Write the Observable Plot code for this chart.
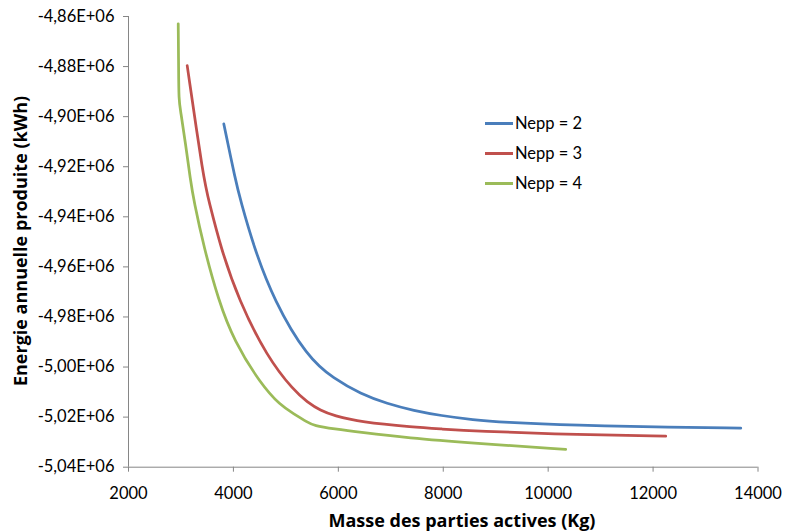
<!DOCTYPE html>
<html>
<head>
<meta charset="utf-8">
<script src="https://cdn.jsdelivr.net/npm/d3@7"></script>
<script src="https://cdn.jsdelivr.net/npm/@observablehq/plot@0.6"></script>
<style>
  html, body { margin: 0; padding: 0; background: #fff; }
  #wrap { position: relative; width: 786px; height: 531px; font-family: Lato, "Open Sans", sans-serif; }
  #legend { position: absolute; left: 485px; top: 108px; font-size: 16.5px; color: #000; }
  .item { display: flex; align-items: center; height: 30px; }
  .sw { width: 28px; height: 3px; margin-right: 2px; }
  .title { position: absolute; white-space: nowrap; font-family: "Open Sans", Lato, sans-serif; font-weight: bold; font-size: 18px; color: #000; line-height: 1; }
  #xtitle { left: 462px; top: 520px; transform: translate(-50%, -50%); }
  #ytitle { left: 20px; top: 241px; transform: translate(-50%, -50%) rotate(-90deg); }
</style>
</head>
<body>
<div id="wrap"><div id="legend"></div><div class="title" id="xtitle"></div><div class="title" id="ytitle"></div></div>
<script>
// ---- data ----
const seriesNames = ["Nepp = 2", "Nepp = 3", "Nepp = 4"];
const colors = ["#4a7ebb", "#c0504d", "#9bbb59"];

const massNepp2 = [3817, 4040, 4136, 4389, 4771, 5408, 5915, 6424, 6933, 7441, 7950, 8585, 9094, 10620, 12000, 13671];
const energyNepp2 = [-4902900, -4925500, -4933500, -4952100, -4973400, -4996100, -5004700, -5010700, -5014700, -5017400, -5019400, -5021100, -5022000, -5023300, -5023900, -5024400];

const massNepp3 = [3119, 3436, 3531, 3754, 4103, 4645, 5152, 5408, 5661, 5915, 6424, 7441, 7950, 8585, 10620, 12241];
const energyNepp3 = [-4879600, -4925500, -4933500, -4952100, -4973400, -4996100, -5009400, -5014000, -5017400, -5019400, -5022000, -5024000, -5024700, -5025600, -5027100, -5027600];

const massNepp4 = [2948, 2955, 2959, 2992, 3087, 3182, 3245, 3436, 3716, 4008, 4517, 4899, 5152, 5408, 5534, 5915, 6424, 7315, 8585, 10334];
const energyNepp4 = [-4862900, -4880000, -4893600, -4897500, -4910800, -4925500, -4933500, -4952100, -4973400, -4989400, -5006700, -5015400, -5018700, -5022000, -5023400, -5024700, -5026100, -5028300, -5030400, -5032900];

const xTicks = [2000, 4000, 6000, 8000, 10000, 12000, 14000];
const yTicks = [-5040000, -5020000, -5000000, -4980000, -4960000, -4940000, -4920000, -4900000, -4880000, -4860000];

const xLabel = "Masse des parties actives (Kg)";
const yLabel = "Energie annuelle produite (kWh)";

// ---- build table ----
const rows = [];
[[massNepp2, energyNepp2], [massNepp3, energyNepp3], [massNepp4, energyNepp4]].forEach(([m, e], i) => {
  m.forEach((v, j) => rows.push({mass: v, energy: e[j], series: seriesNames[i]}));
});

const yFmt = d => (d / 1e6).toFixed(2).replace(".", ",") + "E+06";
const axisGray = "#868686";

const chart = Plot.plot({
  width: 786,
  height: 531,
  marginLeft: 128,
  marginRight: 28.5,
  marginTop: 16,
  marginBottom: 64.3,
  style: {fontFamily: "Lato, 'Open Sans', sans-serif", fontSize: "16.5px", background: "white", color: "black"},
  x: {domain: [2000, 14000], label: null},
  y: {domain: [-5040000, -4860000], label: null},
  color: {domain: seriesNames, range: colors},
  marks: [
    Plot.axisX(xTicks, {tickSize: 5, tickPadding: 15, tickFormat: d => String(d), stroke: axisGray, fill: "black", fontSize: 16.5, label: null}),
    Plot.axisY(yTicks, {tickSize: 5, tickPadding: 9, tickFormat: yFmt, stroke: axisGray, fill: "black", fontSize: 16.5, label: null}),
    Plot.ruleX([2000], {stroke: axisGray}),
    Plot.ruleY([-5040000], {stroke: axisGray}),
    Plot.line(rows, {x: "mass", y: "energy", z: "series", stroke: "series", strokeWidth: 2.75, curve: "basis"})
  ]
});

const wrap = document.getElementById("wrap");
wrap.insertBefore(chart, wrap.firstChild);
document.getElementById("xtitle").textContent = xLabel;
document.getElementById("ytitle").textContent = yLabel;

const legend = document.getElementById("legend");
seriesNames.forEach((name, i) => {
  const it = document.createElement("div");
  it.className = "item";
  const sw = document.createElement("span");
  sw.className = "sw";
  sw.style.background = colors[i];
  const tx = document.createElement("span");
  tx.textContent = name;
  it.appendChild(sw);
  it.appendChild(tx);
  legend.appendChild(it);
});
</script>
</body>
</html>
